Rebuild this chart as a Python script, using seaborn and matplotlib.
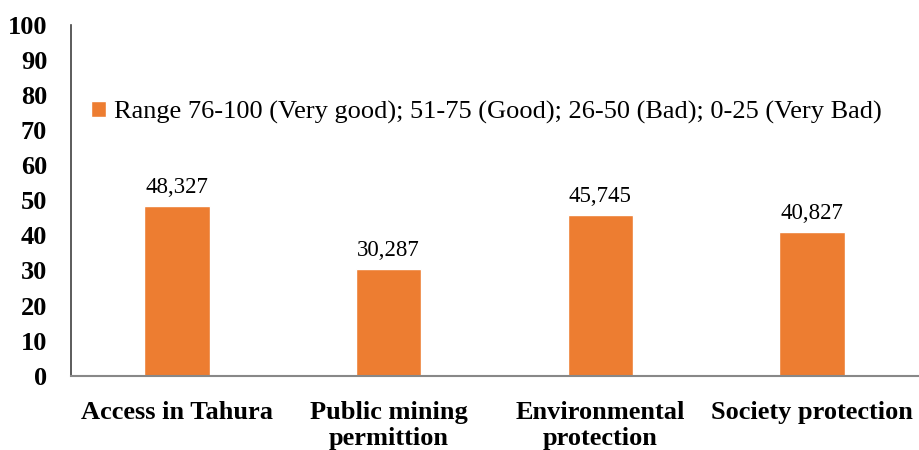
import matplotlib
matplotlib.use('Agg')
import matplotlib.pyplot as plt
import seaborn as sns
import pandas as pd

categories = ['Access in Tahura', 'Public mining\npermittion', 'Environmental\nprotection', 'Society protection']
values = [48.327, 30.287, 45.745, 40.827]
value_labels = ['48,327', '30,287', '45,745', '40,827']
legend_label = 'Range 76-100 (Very good); 51-75 (Good); 26-50 (Bad); 0-25 (Very Bad)'
yticks = list(range(0, 101, 10))

sns.set_style('white')
plt.rcParams['font.family'] = ['Liberation Serif', 'DejaVu Serif']
plt.rcParams['text.color'] = 'black'

df = pd.DataFrame({'category': categories, 'value': values, 'series': legend_label})

fig, ax = plt.subplots(figsize=(9.2, 4.5), dpi=100)
fig.subplots_adjust(left=0.077, right=0.998, top=0.945, bottom=0.165)

sns.barplot(data=df, x='category', y='value', hue='series', palette=['#ED7D31'],
            width=0.31, ax=ax, saturation=1)

for i, (v, lab) in enumerate(zip(values, value_labels)):
    ax.text(i, v + 2.4, lab, ha='center', va='bottom', fontsize=16.5, color='black')

ax.set_ylim(0, 100)
ax.set_yticks(yticks)
ax.set_yticklabels([str(t) for t in yticks], fontsize=19, fontweight='bold', color='black')
ax.set_xticklabels(categories, fontsize=19, fontweight='bold', linespacing=1.2, color='black')
ax.tick_params(axis='x', length=0, pad=18)
ax.tick_params(axis='y', length=0, pad=17)
ax.set_xlabel('')
ax.set_ylabel('')

for s in ['top', 'right']:
    ax.spines[s].set_visible(False)
ax.spines['left'].set_color('#404040')
ax.spines['bottom'].set_color('#888888')
ax.spines['left'].set_linewidth(1.2)
ax.spines['bottom'].set_linewidth(1.5)

leg = ax.legend(loc='center left', bbox_to_anchor=(-0.004, 0.75), frameon=False, fontsize=19,
                handlelength=0.55, handleheight=0.55, handletextpad=0.3)
for t in leg.get_texts():
    t.set_color('black')

fig.savefig('out.png', dpi=100)
